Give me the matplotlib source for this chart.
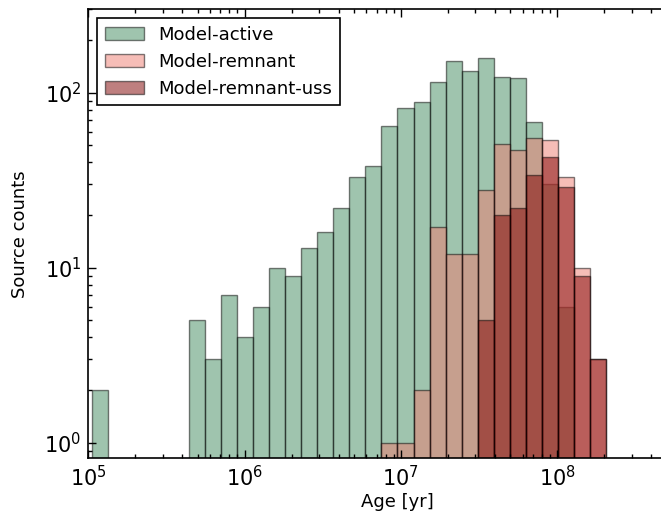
import numpy as np
import matplotlib
matplotlib.use("Agg")
import matplotlib.pyplot as plt

# log-spaced age bins (32 bins)
edges = np.logspace(5.025, 8.314, 33)

# counts per bin
active = [2, 0, 0, 0, 0, 0, 5, 3, 7, 4, 6, 10, 9, 13, 16, 22, 33, 38,
          65, 82, 89, 115, 152, 134, 159, 123, 121, 68, 30, 6, 0, 0]
remnant = [0] * 18 + [1, 1, 2, 17, 12, 12, 28, 51, 47, 55, 54, 33, 10, 3]
remnant_uss = [0] * 24 + [5, 20, 22, 34, 43, 29, 9, 3]

labels = ["Model-active", "Model-remnant", "Model-remnant-uss"]
colors = ["#418a5f", "#ee7c70", "#7f0000"]

centers = np.sqrt(edges[:-1] * edges[1:])

fig = plt.figure(figsize=(6.61, 5.18), dpi=100)
# axes runs past the right edge of the figure (reference is cropped there)
ax = fig.add_axes([88.3 / 661, 1 - 458.3 / 518, 3.95 * 156.3 / 661, 449 / 518])

for counts, lab, col in zip([active, remnant, remnant_uss], labels, colors):
    ax.hist(centers, bins=edges, weights=counts, log=True, color=col,
            alpha=0.5, edgecolor="k", linewidth=1.0, label=lab)

ax.set_xscale("log")
ax.set_xlim(1e5, 10 ** 8.95)
ax.set_ylim(0.815, 300)

ax.tick_params(which="both", direction="in", top=True, right=True, width=1.0)
ax.tick_params(which="major", length=5.5, labelsize=15, pad=5)
ax.tick_params(which="minor", length=3)
for sp in ax.spines.values():
    sp.set_linewidth(1.2)

ax.set_xlabel("Age [yr]", fontsize=13, labelpad=2)
ax.set_ylabel("Source counts", fontsize=13, labelpad=11)

leg = ax.legend(loc="upper left", fontsize=13, fancybox=False,
                framealpha=1, edgecolor="k", borderaxespad=0.5,
                handlelength=2.2, handletextpad=0.8, labelspacing=0.5)
leg.get_frame().set_linewidth(1.2)

fig.savefig("out.png", dpi=100)
